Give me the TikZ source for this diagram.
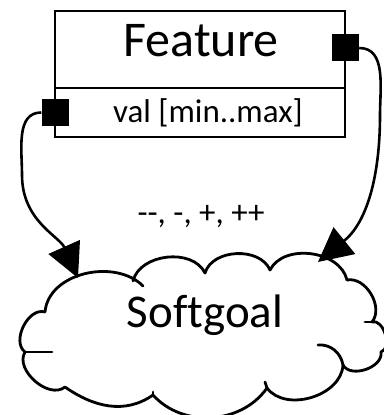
\documentclass[tikz,border=0pt]{standalone}
\usepackage{fontspec}
\setmainfont{Carlito}[Ligatures=NoCommon]
\usetikzlibrary{arrows.meta}
\begin{document}
\begin{tikzpicture}[x=1pt,y=1pt,
  box/.style={draw, line width=2.8pt, minimum width=290pt, inner sep=0pt},
  port/.style={fill=black, draw=none, minimum size=27pt, inner sep=0pt},
  link/.style={line width=2.6pt, -{Triangle[length=34pt,width=34pt]}},
  cloudline/.style={line width=2.8pt, line cap=round, line join=round},
  big/.style={font=\fontsize{50}{54}\selectfont},
  soft/.style={font=\fontsize{47}{52}\selectfont},
  mid/.style={font=\fontsize{33}{37}\selectfont},
  lab/.style={font=\fontsize{33}{37}\selectfont}]
\useasboundingbox (0,0) rectangle (383,415);
% feature box
\node[box, minimum height=77pt] (feat) at (200,365.5) {};
\node[box, minimum height=49pt] (val) at (200,302.5) {};
\node[big, anchor=base] (feattext) at (201,358) {Feature};
\node[mid, anchor=base] (valtext) at (208,292) {val [min..max]};
\node[port] (sqR) at (345.5,367) {};
\node[port] (sqL) at (55,302.5) {};
% cloud
\draw[cloudline] (45,103) to[out=85,in=135] (143,129)
  (133,134) to[out=76,in=116] (205,142) to[out=73,in=113] (270,145)
  to[out=63,in=103] (347,135) to[out=11,in=51] (372,93)
  to[out=17,in=17] (381,63) to[out=-81,in=-61] (343,50)
  to[out=-93,in=-53] (267,27) to[out=-125,in=-48] (153,20)
  to[out=-145,in=-35] (65,28) to[out=-141,in=-121] (25,63)
  to[out=143,in=163] (45,103);
\draw[cloudline] (25,63) to[out=0,in=180] (52,63);
\draw[cloudline] (318,70) to[out=5,in=100] (343,50);
\draw[cloudline] (365,93) -- (372,93);
\draw[cloudline] (265,33) -- (267,27);
\draw[cloudline] (153,23) -- (153,20);
\node[soft, anchor=base] (softgoal) at (205,87) {Softgoal};
\coordinate (tipL) at (78,137);
\coordinate (tipR) at (318,153);
\coordinate (bendL) at (22,240);
\coordinate (bendR) at (380,300);
% connectors
\draw[link] (sqL.west) to[out=180,in=90] (bendL) to[out=-90,in=114] (tipL);
\draw[link] (sqR.east) to[out=0,in=90] (bendR) to[out=-90,in=39] (tipR);
\node[lab, anchor=base] (contrib) at (201,191) {-{}-, -, +, ++};
\end{tikzpicture}
\end{document}
